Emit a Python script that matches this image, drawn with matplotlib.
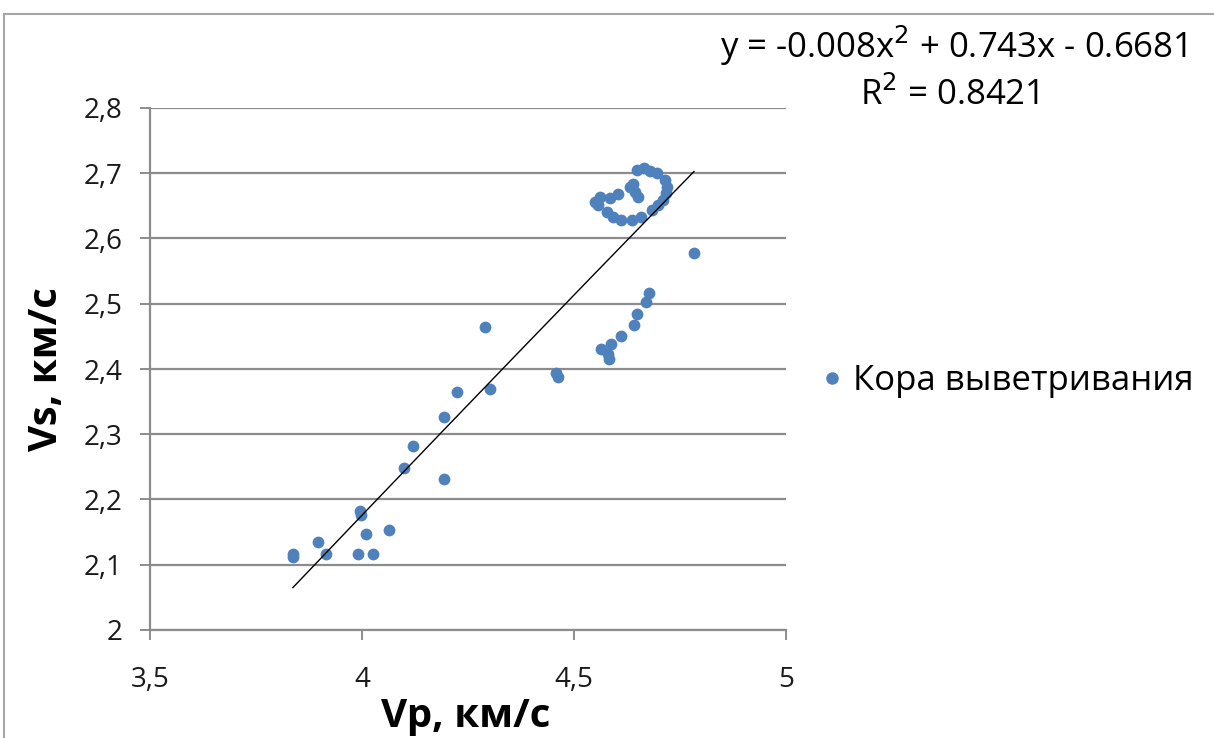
import matplotlib
matplotlib.use("Agg")
import matplotlib.pyplot as plt
from matplotlib.patches import Rectangle
from matplotlib.lines import Line2D
import numpy as np

# Data: Vp (km/s) and Vs (km/s), "Кора выветривания"
vp = [3.837, 3.837, 3.896, 3.915, 3.991, 3.995, 3.997, 4.009, 4.027, 4.064,
      4.098, 4.121, 4.193, 4.193, 4.225, 4.290, 4.302, 4.458, 4.463,
      4.564, 4.587, 4.581, 4.583, 4.612, 4.642, 4.648, 4.670, 4.678, 4.783,
      4.648, 4.664, 4.679, 4.695, 4.715, 4.720, 4.717, 4.711, 4.699,
      4.683, 4.659, 4.636, 4.612, 4.593, 4.577, 4.557, 4.550, 4.561,
      4.585, 4.604, 4.632, 4.644, 4.652, 4.640]
vs = [2.112, 2.117, 2.135, 2.116, 2.116, 2.183, 2.176, 2.147, 2.116, 2.154,
      2.248, 2.282, 2.326, 2.231, 2.364, 2.465, 2.370, 2.394, 2.387,
      2.430, 2.438, 2.423, 2.415, 2.450, 2.467, 2.485, 2.503, 2.516, 2.578,
      2.705, 2.708, 2.704, 2.700, 2.690, 2.679, 2.669, 2.659, 2.651,
      2.644, 2.633, 2.628, 2.628, 2.633, 2.641, 2.651, 2.656, 2.664,
      2.662, 2.668, 2.679, 2.672, 2.664, 2.684]

series_name = "Кора выветривания"
trend_coef = [-0.008, 0.743, -0.6681]   # y = a x^2 + b x + c
eq_text = "y = -0.008x$^2$ + 0.743x - 0.6681"
r2_text = "R$^2$ = 0.8421"

x_ticks = [3.5, 4.0, 4.5, 5.0]
x_ticklabels = ["3,5", "4", "4,5", "5"]
y_ticks = [2.0, 2.1, 2.2, 2.3, 2.4, 2.5, 2.6, 2.7, 2.8]
y_ticklabels = ["2", "2,1", "2,2", "2,3", "2,4", "2,5", "2,6", "2,7", "2,8"]

W, H = 1214, 738
fig = plt.figure(figsize=(W / 100, H / 100), dpi=100)
fig.patch.set_facecolor("white")

FONT = "Open Sans"
grid_c = "#8C8C8C"
blue = "#4F81BD"

# outer chart frame
fig.patches.append(Rectangle((4 / W, -0.05), 1.1, 1 - 14 / H + 0.05,
                             transform=fig.transFigure, fill=False,
                             edgecolor="#A6A6A6", linewidth=1.5))

ax = fig.add_axes([150 / W, 1 - 630 / H, (786 - 150) / W, (630 - 108) / H])
ax.set_xlim(3.5, 5.0)
ax.set_ylim(2.0, 2.8)

ax.scatter(vp, vs, s=72, color=blue, zorder=3, linewidths=0)

xs = np.linspace(min(vp), max(vp), 200)
ax.plot(xs, np.polyval(trend_coef, xs), color="black", linewidth=1.0, zorder=4)

ax.set_yticks(y_ticks)
ax.set_yticklabels(y_ticklabels)
ax.set_xticks(x_ticks)
ax.set_xticklabels(x_ticklabels)
for lab in ax.get_xticklabels() + ax.get_yticklabels():
    lab.set_fontfamily(FONT)
    lab.set_fontsize(20)
    lab.set_color("#1a1a1a")
ax.tick_params(axis="both", direction="out", length=7, width=1.4, color=grid_c)
ax.tick_params(axis="y", pad=13)
ax.tick_params(axis="x", pad=19)

ax.yaxis.grid(True, color=grid_c, linewidth=1.6)
ax.set_axisbelow(True)
for s in ["top", "right"]:
    ax.spines[s].set_visible(False)
for s in ["left", "bottom"]:
    ax.spines[s].set_color(grid_c)
    ax.spines[s].set_linewidth(1.6)

ax.set_xlabel("Vp, км/с", fontfamily=FONT, fontsize=29, fontweight="bold")
ax.set_ylabel("Vs, км/с", fontfamily=FONT, fontsize=29, fontweight="bold")
ax.xaxis.label.set_va("center")
ax.yaxis.label.set_va("center")
ax.xaxis.set_label_coords(0.497, -(716 - 630) / 522)
ax.yaxis.set_label_coords(-(150 - 46) / 636, 0.5)

fig.text(953 / W, 1 - 46 / H, eq_text, ha="center", va="center",
         fontfamily=FONT, fontsize=25, color="black")
fig.text(950 / W, 1 - 95 / H, r2_text, ha="center", va="center",
         fontfamily=FONT, fontsize=25, color="black")

handle = Line2D([], [], marker="o", linestyle="none", color=blue, markersize=8)
fig.legend([handle], [series_name], loc="center left",
           bbox_to_anchor=(815 / W, 1 - 381 / H), frameon=False,
           prop={"family": FONT, "size": 25}, handletextpad=0.1,
           borderaxespad=0, borderpad=0, handlelength=1.0)

fig.savefig("out.png", dpi=100, facecolor="white")
